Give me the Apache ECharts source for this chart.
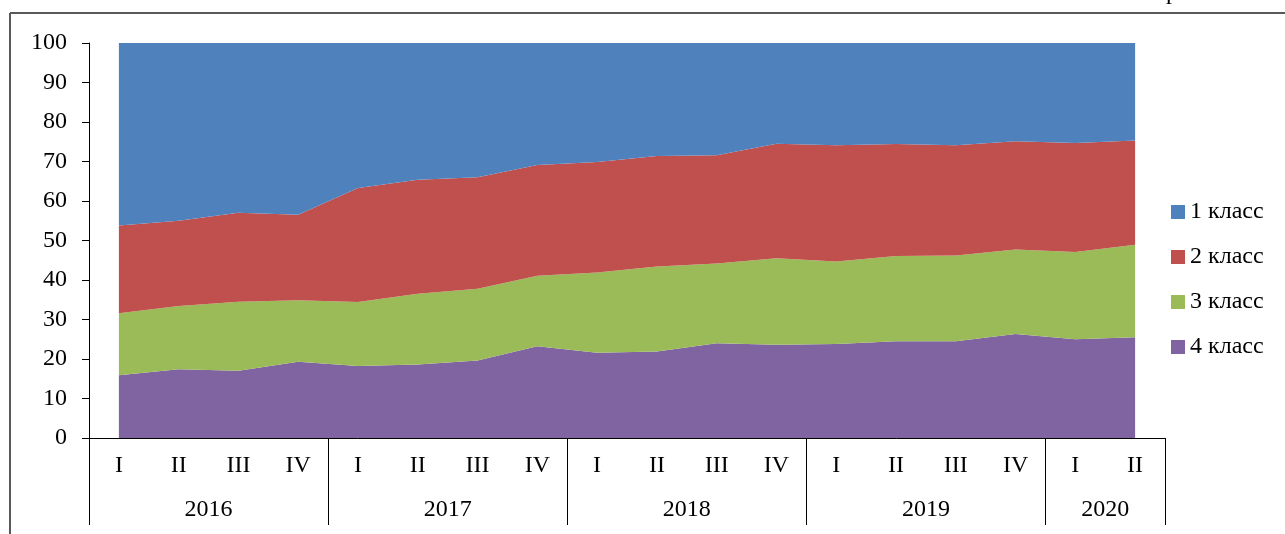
<!DOCTYPE html>
<html>
<head>
<meta charset="utf-8">
<script src="https://cdn.jsdelivr.net/npm/echarts@6/dist/echarts.min.js"></script>
<style>
html, body { margin: 0; padding: 0; background: #fff; }
#chart { width: 1285px; height: 534px; }
</style>
</head>
<body>
<div id="chart"></div>
<script>
// кварталы и годы
var quarters = ['I','II','III','IV','I','II','III','IV','I','II','III','IV','I','II','III','IV','I','II'];
var years = ['2016', '2017', '2018', '2019', '2020'];
var yearCenters = [2, 6, 10, 14, 17];
var yearBounds = [0, 4, 8, 12, 16, 18];

// доли классов, %
var class4 = [15.9, 17.4, 17.0, 19.3, 18.2, 18.6, 19.6, 23.2, 21.6, 21.9, 24.0, 23.6, 23.8, 24.5, 24.5, 26.3, 25.0, 25.5];
var class3 = [15.7, 16.0, 17.5, 15.6, 16.2, 17.9, 18.2, 17.9, 20.3, 21.5, 20.2, 21.9, 20.9, 21.6, 21.7, 21.4, 22.1, 23.4];
var class2 = [22.2, 21.6, 22.5, 21.6, 28.9, 28.9, 28.2, 28.0, 28.0, 28.0, 27.4, 29.0, 29.4, 28.3, 27.9, 27.4, 27.6, 26.4];
var class1 = [46.2, 45.0, 43.0, 43.5, 36.7, 34.6, 34.0, 30.9, 30.1, 28.6, 28.4, 25.5, 25.9, 25.6, 25.9, 24.9, 25.3, 24.7];

var font = 'Liberation Serif';
var myChart = echarts.init(document.getElementById('chart'));

function area(name, data, color) {
	return {
		name: name,
		type: 'line',
		stack: 'total',
		data: data,
		symbol: 'none',
		lineStyle: { width: 0 },
		itemStyle: { color: color },
		areaStyle: { color: color, opacity: 1 },
		xAxisIndex: 0
	};
}

var option = {
	animation: false,
	textStyle: { fontFamily: font },
	grid: { left: 89, right: 120, top: 43, bottom: 96 },
	legend: {
		orient: 'vertical',
		left: 1166,
		top: 195,
		itemWidth: 14,
		itemHeight: 14,
		itemGap: 21,
		icon: 'rect',
		data: ['1 класс', '2 класс', '3 класс', '4 класс'],
		textStyle: { fontFamily: font, fontSize: 24, color: '#000', lineHeight: 24 }
	},
	xAxis: [
		{
			type: 'category',
			data: quarters,
			boundaryGap: true,
			axisLine: { lineStyle: { color: '#000', width: 1 } },
			axisTick: { show: false },
			axisLabel: { interval: 0, fontFamily: font, fontSize: 24, color: '#000', margin: 16 }
		},
		{
			type: 'value',
			min: 0,
			max: 18,
			position: 'bottom',
			splitLine: { show: false },
			axisLine: { show: false },
			axisTick: { show: true, customValues: yearBounds, length: 87, lineStyle: { color: '#000', width: 1 } },
			axisLabel: {
				customValues: yearCenters,
				fontFamily: font,
				fontSize: 24,
				color: '#000',
				margin: 60,
				formatter: function (v) {
					return years[yearCenters.indexOf(v)];
				}
			}
		}
	],
	yAxis: {
		type: 'value',
		min: 0,
		max: 100,
		interval: 10,
		splitLine: { show: false },
		axisLine: { show: true, lineStyle: { color: '#000', width: 1 } },
		axisTick: { show: true, length: 7, lineStyle: { color: '#000' } },
		axisLabel: { fontFamily: font, fontSize: 24, color: '#000', margin: 22 }
	},
	graphic: [
		{ type: 'line', shape: { x1: 10, y1: 13, x2: 1285, y2: 13 }, style: { stroke: '#595959', lineWidth: 2 } },
		{ type: 'line', shape: { x1: 10, y1: 13, x2: 10, y2: 534 }, style: { stroke: '#595959', lineWidth: 2 } },
		{ type: 'text', left: 1166, top: -19, style: { text: 'р', font: '24px "Liberation Serif"', fill: '#000' } }
	],
	series: [
		area('4 класс', class4, '#8064A2'),
		area('3 класс', class3, '#9BBB59'),
		area('2 класс', class2, '#C0504D'),
		area('1 класс', class1, '#4F81BD')
	]
};

myChart.setOption(option);
</script>
</body>
</html>
